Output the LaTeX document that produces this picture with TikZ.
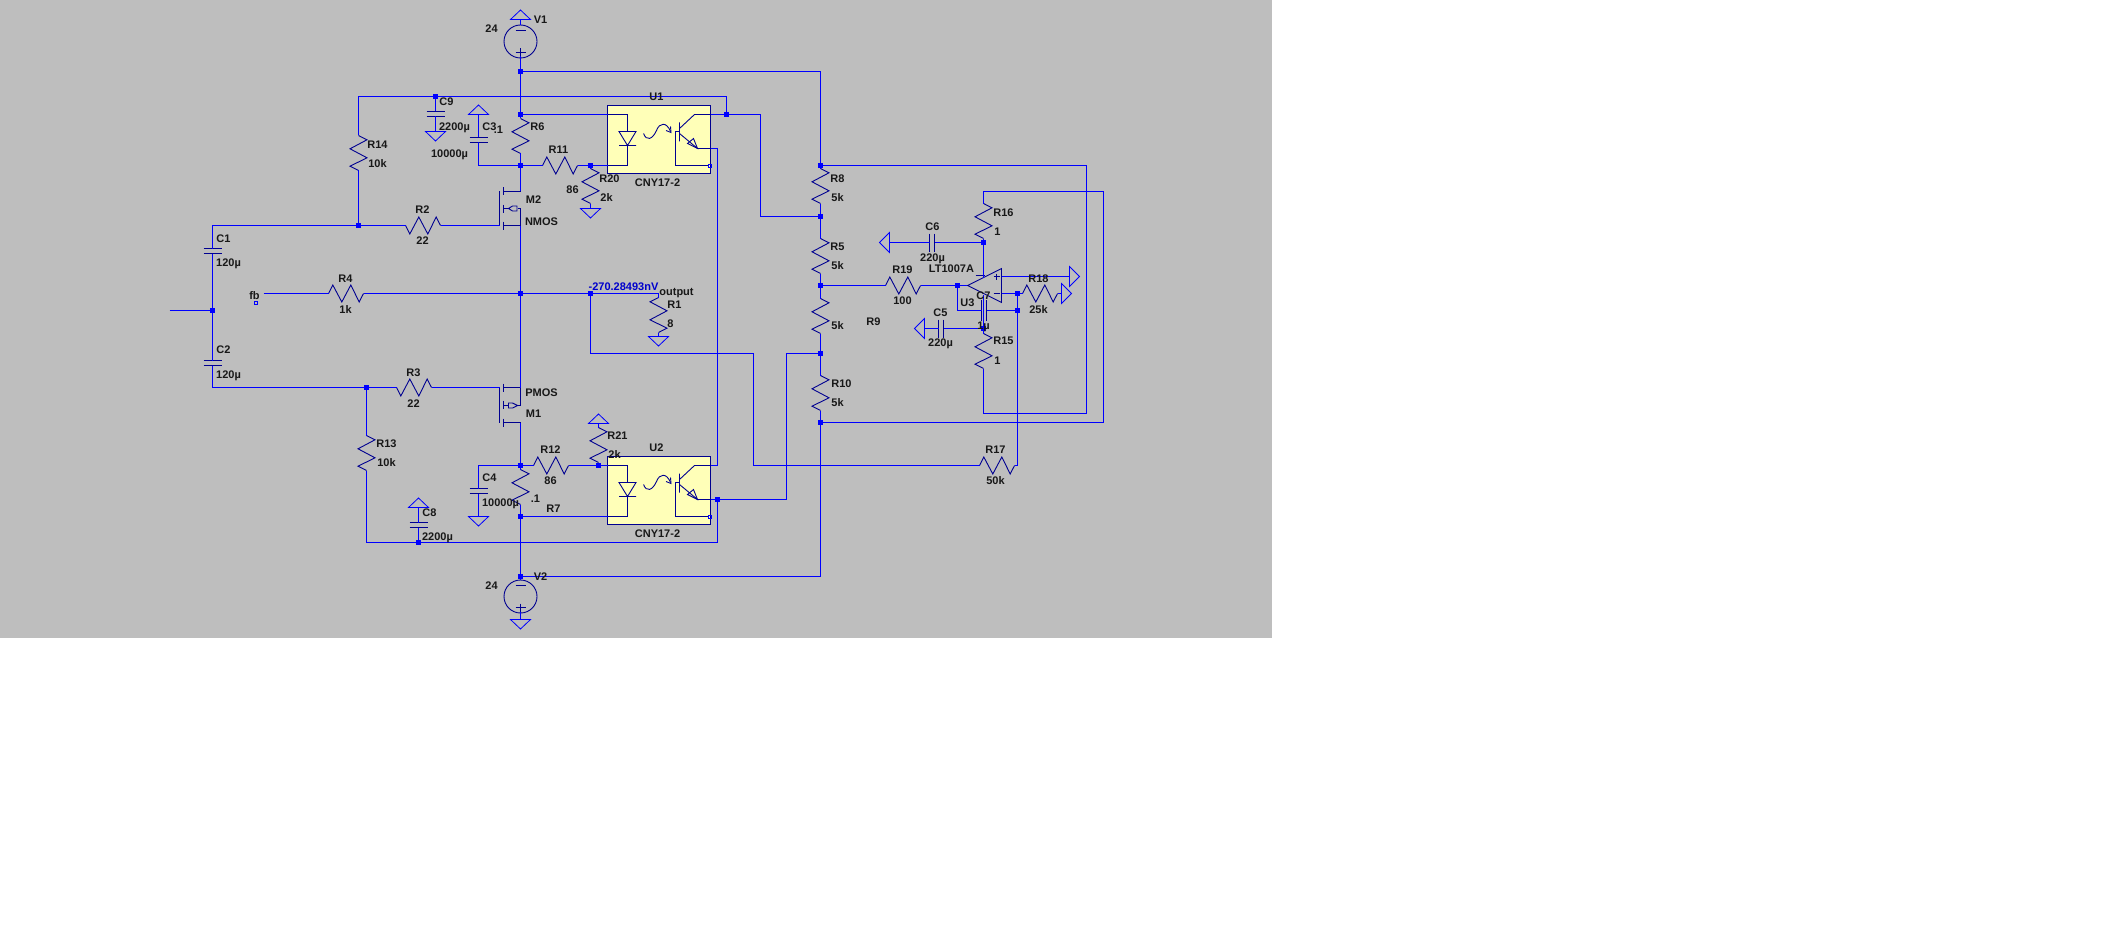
\documentclass[tikz,border=0pt]{standalone}
\usepackage{fontspec}
\setmainfont{Liberation Sans}
\usetikzlibrary{arrows.meta}
\definecolor{bg}{HTML}{BEBEBE}
\definecolor{wirec}{HTML}{0000FF}
\definecolor{compc}{HTML}{000090}
\definecolor{boxc}{HTML}{FFFFB8}
\definecolor{txtc}{HTML}{181818}
\tikzset{
  wire/.style={draw=wirec,line width=1.35pt},
  comp/.style={draw=compc,line width=0.9pt},
  gndl/.style={draw=wirec,line width=0.8pt,line join=miter},
  jn/.style={rectangle,fill=wirec,draw=none,inner sep=0pt,minimum size=5.5pt},
  pinsq/.style={rectangle,fill=none,draw=wirec,line width=0.8pt,inner sep=0pt,minimum size=3pt},
  lbl/.style={text=txtc,font=\bfseries\fontsize{11}{11}\selectfont,inner sep=0pt},
  pics/rv/.style={code={
    \draw[comp] (0,0)--(8.5,4.3)--(-8.5,13.3)--(8.5,22.3)--(-8.5,30.7)--(0,35);
    \coordinate (-a) at (0,0); \coordinate (-b) at (0,35);}},
  pics/rvm/.style={code={
    \draw[comp] (0,0)--(-8.5,4.3)--(8.5,13.3)--(-8.5,22.3)--(8.5,30.7)--(0,35);
    \coordinate (-a) at (0,0); \coordinate (-b) at (0,35);}},
  pics/rh/.style={code={
    \draw[comp] (0,0)--(4.3,-8.5)--(13.3,8.5)--(22.3,-8.5)--(30.7,8.5)--(35,0);
    \coordinate (-a) at (0,0); \coordinate (-b) at (35,0);}},
  pics/rhd/.style={code={
    \draw[comp] (0,0)--(4.3,8.5)--(13.3,-8.5)--(22.3,8.5)--(30.7,-8.5)--(35,0);
    \coordinate (-a) at (0,0); \coordinate (-b) at (35,0);}},
  pics/cv/.style={code={
    \draw[comp] (-9,0)--(9,0) (-9,5)--(9,5);
    \coordinate (-a) at (0,0); \coordinate (-b) at (0,5);}},
  pics/ch/.style={code={
    \draw[comp] (0,-9)--(0,9) (5,-9)--(5,9);
    \coordinate (-a) at (0,0); \coordinate (-b) at (5,0);}},
  pics/gdown/.style={code={\draw[gndl] (-10,0)--(10,0)--(0,9.5)--cycle; \coordinate (-p) at (0,0);}},
  pics/gup/.style={code={\draw[gndl] (-10,0)--(10,0)--(0,-9.5)--cycle; \coordinate (-p) at (0,0);}},
  pics/gleft/.style={code={\draw[gndl] (0,-10)--(0,10)--(-10,0)--cycle; \coordinate (-p) at (0,0);}},
  pics/gright/.style={code={\draw[gndl] (0,-10)--(0,10)--(10,0)--cycle; \coordinate (-p) at (0,0);}},
  pics/vsrc/.style={code={
    \draw[comp] (0,0) circle[radius=16.5];
    \draw[comp] (-5,-11)--(5,-11) (-5,11)--(5,11) (0,7)--(0,15);
    \coordinate (-t) at (0,-16.5); \coordinate (-b) at (0,16.5); \coordinate (-p) at (0,15);}},
  pics/nm/.style={code={
    \draw[comp] (0,0)--(0,34) (4,-4)--(4,4) (4,13)--(4,21) (4,30)--(4,38);
    \draw[comp] (4,0)--(21,0) (4,34)--(21,34) (21,17)--(21,34);
    \draw[comp] (4,17)--(9,17) (18,17)--(21,17);
    \draw[comp] (9,17)--(13,14.5)--(17.5,14.5)--(17.5,19.5)--(13,19.5)--cycle;
    \coordinate (-g) at (0,34); \coordinate (-d) at (21,0); \coordinate (-s) at (21,34);}},
  pics/pm/.style={code={
    \draw[comp] (0,0)--(0,35) (4,-4)--(4,4) (4,13)--(4,21) (4,31)--(4,39);
    \draw[comp] (4,0)--(21,0) (4,35)--(21,35) (21,0)--(21,18);
    \draw[comp] (4,18)--(9,18) (18,18)--(21,18);
    \draw[comp] (9,15.5)--(13,15.5)--(18,18)--(13,20.5)--(9,20.5)--cycle;
    \coordinate (-g) at (0,0); \coordinate (-s) at (21,0); \coordinate (-d) at (21,35);}},
  pics/opto/.style={code={
    \draw[comp,fill=boxc] (0,0) rectangle (103,68);
    \draw[comp] (0,9)--(20,9)--(20,26) (20,40)--(20,60)--(0,60);
    \draw[comp] (11.5,26)--(28.5,26)--(20,40)--cycle (11.5,40)--(28.5,40);
    \draw[comp] (36,28) .. controls (39,36) and (45,34) .. (49,25) .. controls (52,17) and (59,16) .. (63,26);
    \draw[comp] (58.5,25)--(63.5,27)--(63,21);
    \draw[comp] (72,17)--(72,36) (72,23)--(87,9)--(103,9);
    \draw[comp] (72,28)--(90,43)--(103,43);
    \draw[comp] (80,38)--(86,33)--(90,43)--cycle;
    \draw[comp] (72,26)--(68,26)--(68,60)--(101,60);
    \node[pinsq] (-sq) at (102,60) {};
    \coordinate (-tl) at (0,9); \coordinate (-bl) at (0,60);
    \coordinate (-c) at (103,9); \coordinate (-e) at (103,43);}},
}
\newcommand{\lab}[4]{\node[lbl] (#1) at (#2,#3) {#4};}
\begin{document}
\begin{tikzpicture}[x=1pt,y=-1pt]
\useasboundingbox (0,0) rectangle (2124,936);
\fill[white] (0,0) rectangle (2124,936);
\fill[bg] (0,0) rectangle (1272,638);
\begin{scope}[shift={(0.5,0.5)}]

% junctions
\node[jn] (jV1) at (520,71) {};
\node[jn] (jA) at (520,114) {};
\node[jn] (jB) at (520,165) {};
\node[jn] (jF) at (520,293) {};
\node[jn] (jC) at (520,465) {};
\node[jn] (jD) at (520,516) {};
\node[jn] (jE) at (520,576) {};
\node[jn] (jC9) at (435,96) {};
\node[jn] (jG1) at (358,225) {};
\node[jn] (jG2) at (366,387) {};
\node[jn] (jIn) at (212,310) {};
\node[jn] (jC8) at (418,542) {};
\node[jn] (jEm) at (717,499) {};
\node[jn] (jCo) at (726,114) {};
\node[jn] (jR8) at (820,165) {};
\node[jn] (jR5) at (820,216) {};
\node[jn] (jR9) at (820,285) {};
\node[jn] (jR10) at (820,353) {};
\node[jn] (jRb) at (820,422) {};
\node[jn] (jOut) at (590,293) {};
\node[jn] (jR20) at (590,165) {};
\node[jn] (jR21) at (598,465) {};
\node[jn] (jP) at (983,242) {};
\node[jn] (jN) at (983,328) {};
\node[jn] (jOp) at (957,285) {};
\node[jn] (jM) at (1017,293) {};
\node[jn] (jL) at (1017,310) {};
\node[pinsq] (pfb) at (255,302) {};

% optocouplers
\pic (U1) at (607,105) {opto};
\pic (U2) at (607,456) {opto};

% sources and transistors
\pic (V1) at (520,41) {vsrc};
\pic (V2) at (520,596) {vsrc};
\pic (M2) at (499,191) {nm};
\pic (M1) at (499,387) {pm};

% resistors
\pic (R14) at (358,135) {rv};
\pic (R6) at (520,118) {rv};
\pic (R7) at (520,469) {rv};
\pic (R13) at (366,435) {rv};
\pic (R20) at (590,168) {rv};
\pic (R21) at (598,427) {rv};
\pic (R8) at (820,168) {rv};
\pic (R5) at (820,238) {rv};
\pic (R9) at (820,298) {rv};
\pic (R10) at (820,375) {rv};
\pic (R16) at (983,203) {rv};
\pic (R15) at (983,333) {rv};
\pic (R1) at (658,297) {rvm};
\pic (R2) at (405,225) {rhd};
\pic (R3) at (396,387) {rhd};
\pic (R4) at (328,293) {rh};
\pic (R11) at (542,165) {rh};
\pic (R12) at (533,465) {rh};
\pic (R19) at (885,285) {rh};
\pic (R17) at (979,465) {rh};
\pic (R18) at (1022,293) {rh};

% capacitors
\pic (C1) at (212,248) {cv};
\pic (C2) at (212,360) {cv};
\pic (C9) at (435,111) {cv};
\pic (C3) at (478,137) {cv};
\pic (C4) at (478,488) {cv};
\pic (C8) at (418,522) {cv};
\pic (C6) at (929,242) {ch};
\pic (C5) at (938,328) {ch};
\pic[yscale=1.15] (C7) at (981,310) {ch};

% grounds
\pic (G9) at (435,131) {gdown};
\pic (G3) at (478,114) {gup};
\pic (G20) at (590,208) {gdown};
\pic (G1) at (658,336) {gdown};
\pic (G4) at (478,516) {gdown};
\pic (G8) at (418,507) {gup};
\pic (G21) at (598,423) {gup};
\pic (GV1) at (520,19) {gup};
\pic (GV2) at (520,619) {gdown};
\pic (G6) at (889,242) {gleft};
\pic (G5) at (924,328) {gleft};
\pic (GP) at (1069,276) {gright};
\pic (G18) at (1061,293) {gright};

% op amp
\node[draw=none,inner sep=0pt,minimum size=0pt] (opOut) at (967,285) {};
\draw[comp] (967,285)--(1001,268)--(1001,302)--cycle;
\draw[comp] (975,275)--(984,275) (993,276)--(999,276) (996,273)--(996,279) (993,293)--(999,293);
\coordinate (opTop) at (983,277);
\coordinate (opBot) at (983,294);
\coordinate (opP) at (1001,276);
\coordinate (opM) at (1001,293);

% free ends and corners
\coordinate (inL) at (169,310);
\coordinate (fbL) at (263,293);
\coordinate (c1) at (726,96);
\coordinate (c2a) at (760,114);
\coordinate (c2b) at (760,216);
\coordinate (c3a) at (717,148);
\coordinate (c3b) at (717,465);
\coordinate (c4a) at (590,353);
\coordinate (c4b) at (753,353);
\coordinate (c4c) at (753,465);
\coordinate (c5) at (1017,465);
\coordinate (c6a) at (786,499);
\coordinate (c6b) at (786,353);
\coordinate (c7a) at (1086,165);
\coordinate (c7b) at (1086,413);
\coordinate (c7c) at (983,413);
\coordinate (c8a) at (1103,422);
\coordinate (c8b) at (1103,191);
\coordinate (c8c) at (983,191);
\coordinate (c9) at (957,310);
\coordinate (cOut) at (658,293);

% wires
\draw[wire] (GV1-p)--(V1-t);
\draw[wire] (V1-p)--(jV1)--(jA)--(R6-a);
\draw[wire] (R6-b)--(jB)--(M2-d);
\draw[wire] (M2-s)--(jF)--(M1-s);
\draw[wire] (M1-d)--(jC)--(R7-a);
\draw[wire] (R7-b)--(jD)--(jE)--(V2-t);
\draw[wire] (V2-p)--(GV2-p);
\draw[wire] (jV1) -| (jR8);
\draw[wire] (jA)--(U1-tl);
\draw[wire] (jR8)--(R8-a);
\draw[wire] (R8-b)--(jR5)--(R5-a);
\draw[wire] (R5-b)--(jR9)--(R9-a);
\draw[wire] (R9-b)--(jR10)--(R10-a);
\draw[wire] (R10-b)--(jRb);
\draw[wire] (jRb) |- (jE);
\draw[wire] (R14-a) |- (jC9);
\draw[wire] (jC9)--(c1)--(jCo);
\draw[wire] (U1-c)--(jCo)--(c2a)--(c2b)--(jR5);
\draw[wire] (U1-e)--(c3a)--(c3b)--(U2-c);
\draw[wire] (jC9)--(C9-a);
\draw[wire] (C9-b)--(G9-p);
\draw[wire] (G3-p)--(C3-a);
\draw[wire] (C3-b) |- (jB);
\draw[wire] (jB)--(R11-a);
\draw[wire] (R11-b)--(jR20)--(U1-bl);
\draw[wire] (jR20)--(R20-a);
\draw[wire] (R20-b)--(G20-p);
\draw[wire] (C1-a) |- (jG1);
\draw[wire] (jG1)--(R14-b);
\draw[wire] (jG1)--(R2-a);
\draw[wire] (R2-b)--(M2-g);
\draw[wire] (C1-b)--(jIn)--(C2-a);
\draw[wire] (inL)--(jIn);
\draw[wire] (C2-b) |- (jG2);
\draw[wire] (jG2)--(R3-a);
\draw[wire] (R3-b)--(M1-g);
\draw[wire] (jG2)--(R13-a);
\draw[wire] (R13-b) |- (jC8);
\draw[wire] (jC8) -| (jEm);
\draw[wire] (jC8)--(C8-b);
\draw[wire] (C8-a)--(G8-p);
\draw[wire] (fbL)--(R4-a);
\draw[wire] (R4-b)--(jF)--(jOut)--(cOut)--(R1-a);
\draw[wire] (R1-b)--(G1-p);
\draw[wire] (jOut)--(c4a)--(c4b)--(c4c)--(R17-a);
\draw[wire] (R17-b)--(c5)--(jL)--(jM);
\draw[wire] (jM)--(R18-a);
\draw[wire] (R18-b)--(G18-p);
\draw[wire] (opM)--(jM);
\draw[wire] (jC)--(R12-a);
\draw[wire] (R12-b)--(jR21)--(U2-tl);
\draw[wire] (jR21)--(R21-b);
\draw[wire] (R21-a)--(G21-p);
\draw[wire] (jD)--(U2-bl);
\draw[wire] (U2-e)--(jEm)--(c6a)--(c6b)--(jR10);
\draw[wire] (C4-a) |- (jC);
\draw[wire] (C4-b)--(G4-p);
\draw[wire] (jR8)--(c7a)--(c7b)--(c7c)--(R15-b);
\draw[wire] (R15-a)--(jN);
\draw[wire] (jRb)--(c8a)--(c8b)--(c8c)--(R16-a);
\draw[wire] (R16-b)--(jP)--(opTop);
\draw[wire] (jP)--(C6-b);
\draw[wire] (C6-a)--(G6-p);
\draw[wire] (jN)--(C5-b);
\draw[wire] (C5-a)--(G5-p);
\draw[wire] (jN)--(opBot);
\draw[wire] (jR9)--(R19-a);
\draw[wire] (R19-b)--(jOp)--(opOut);
\draw[wire] (jOp)--(c9)--(C7-a);
\draw[wire] (C7-b)--(jL);
\draw[wire] (opP)--(GP-p);

% labels
\lab{t24a}{491}{28}{24}
\lab{tV1}{540}{19}{V1}
\lab{tC9}{446}{101}{C9}
\lab{tC9v}{454}{127}{2200µ}
\lab{tC3}{489}{126}{C3}
\lab{tR6v}{498}{129}{.1}
\lab{tC3v}{449}{154}{10000µ}
\lab{tR6}{537}{126}{R6}
\lab{tR14}{377}{144}{R14}
\lab{tR14v}{377}{163}{10k}
\lab{tM2}{533}{199}{M2}
\lab{tNM}{541}{221}{NMOS}
\lab{tR2}{422}{209}{R2}
\lab{tR2v}{422}{240}{22}
\lab{tC1}{223}{238}{C1}
\lab{tC1v}{228}{263}{120µ}
\lab{tR4}{345}{278}{R4}
\lab{tR4v}{345}{309}{1k}
\lab{tfb}{254}{295}{fb}
\lab{tU1}{656}{96}{U1}
\lab{tR11}{558}{149}{R11}
\lab{tR11v}{572}{189}{86}
\lab{tR20}{609}{178}{R20}
\lab{tR20v}{606}{197}{2k}
\lab{tCNYa}{657}{182}{CNY17-2}
\lab{tR8}{837}{178}{R8}
\lab{tR8v}{837}{197}{5k}
\lab{tR5}{837}{246}{R5}
\lab{tR5v}{837}{265}{5k}
\node[lbl,text=wirec!80!black] (tVolt) at (623,286) {-270.28493nV};
\lab{tOut}{676}{293}{output}
\lab{tR1}{674}{304}{R1}
\lab{tR1v}{670}{323}{8}
\lab{tPM}{541}{392}{PMOS}
\lab{tM1}{533}{413}{M1}
\lab{tR12}{550}{449}{R12}
\lab{tR12v}{550}{480}{86}
\lab{tR21}{617}{435}{R21}
\lab{tR21v}{614}{454}{2k}
\lab{tU2}{656}{447}{U2}
\lab{tCNYb}{657}{533}{CNY17-2}
\lab{tR7v}{535}{498}{.1}
\lab{tR7}{553}{508}{R7}
\lab{tC4}{489}{477}{C4}
\lab{tC4v}{500}{503}{10000µ}
\lab{tV2}{540}{576}{V2}
\lab{t24b}{491}{585}{24}
\lab{tC2}{223}{349}{C2}
\lab{tC2v}{228}{375}{120µ}
\lab{tR3}{413}{372}{R3}
\lab{tR3v}{413}{403}{22}
\lab{tR13}{386}{443}{R13}
\lab{tR13v}{386}{462}{10k}
\lab{tC8}{429}{512}{C8}
\lab{tC8v}{437}{537}{2200µ}
\lab{tR16}{1003}{212}{R16}
\lab{tR16v}{997}{231}{1}
\lab{tC6}{932}{226}{C6}
\lab{tC6v}{932}{258}{220µ}
\lab{tLT}{951}{268}{LT1007A}
\lab{tR19}{902}{269}{R19}
\lab{tR19v}{902}{300}{100}
\lab{tR9v}{837}{325}{5k}
\lab{tR9}{873}{321}{R9}
\lab{tU3}{967}{302}{U3}
\lab{tC7}{983}{295}{C7}
\lab{tC7v}{983}{326}{1µ}
\lab{tC5}{940}{312}{C5}
\lab{tC5v}{940}{343}{220µ}
\lab{tR15}{1003}{340}{R15}
\lab{tR15v}{997}{360}{1}
\lab{tR18}{1038}{278}{R18}
\lab{tR18v}{1038}{309}{25k}
\lab{tR10}{841}{383}{R10}
\lab{tR10v}{837}{402}{5k}
\lab{tR17}{995}{449}{R17}
\lab{tR17v}{995}{480}{50k}
\end{scope}
\end{tikzpicture}
\end{document}
